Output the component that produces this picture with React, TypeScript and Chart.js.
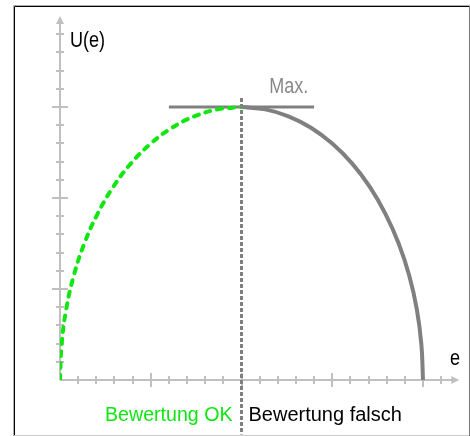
import React, { useEffect, useRef } from "react";
import { Chart, registerables } from "chart.js";

Chart.register(...registerables);

// Curves (x and y in minor-tick units)
const okX = [0, 0.09, 0.34, 0.76, 1.34, 2.07, 2.93, 3.91, 5.0, 6.17, 7.41, 8.69, 10];
const okY = [0, 1.96, 3.88, 5.74, 7.5, 9.13, 10.61, 11.9, 12.99, 13.86, 14.49, 14.87, 15];
const falschX = [10, 11.31, 12.59, 13.83, 15.0, 16.09, 17.07, 17.93, 18.66, 19.24, 19.66, 19.91, 20];
const falschY = [15, 14.87, 14.49, 13.86, 12.99, 11.9, 10.61, 9.13, 7.5, 5.74, 3.88, 1.96, 0];
const maxLineX = [6, 14];
const maxLineY = [15, 15];
const splitX = [10, 10];
const splitY = [15.5, -3];

const xTicks = [1, 2, 3, 4, 5, 6, 7, 8, 9, 10, 11, 12, 13, 14, 15, 16, 17, 18, 19, 20, 21];
const yTicks = [1, 2, 3, 4, 5, 6, 7, 8, 9, 10, 11, 12, 13, 14, 15, 16, 17, 18, 19];
const majorEvery = 5;

const xLabel = "e";
const yLabel = "U(e)";
const maxLabel = "Max.";
const okLabel = "Bewertung OK";
const falschLabel = "Bewertung falsch";

const pts = (xs: number[], ys: number[]) => xs.map((x, i) => ({ x, y: ys[i] }));

function narrowText(
  ctx: CanvasRenderingContext2D,
  text: string,
  x: number,
  y: number,
  align: "left" | "center" | "right",
  squeeze: number
) {
  ctx.save();
  ctx.translate(x, y);
  ctx.scale(squeeze, 1);
  ctx.textAlign = align;
  ctx.fillText(text, 0, 0);
  ctx.restore();
}

const axesPlugin = {
  id: "customAxes",
  beforeDraw(chart: any) {
    const ctx = chart.ctx as CanvasRenderingContext2D;
    ctx.save();
    ctx.fillStyle = "#ffffff";
    ctx.fillRect(0, 0, chart.width, chart.height);
    ctx.lineWidth = 1;
    ctx.strokeStyle = "#b0b0b0";
    ctx.beginPath();
    ctx.moveTo(13.5, 436);
    ctx.lineTo(13.5, 5.5);
    ctx.lineTo(470, 5.5);
    ctx.stroke();
    ctx.strokeStyle = "#000000";
    ctx.beginPath();
    ctx.moveTo(14.5, 436);
    ctx.lineTo(14.5, 6.5);
    ctx.lineTo(469, 6.5);
    ctx.stroke();
    ctx.strokeStyle = "#777777";
    ctx.beginPath();
    ctx.moveTo(469.5, 6);
    ctx.lineTo(469.5, 436);
    ctx.stroke();
    ctx.strokeStyle = "#cccccc";
    ctx.beginPath();
    ctx.moveTo(14, 435.5);
    ctx.lineTo(469, 435.5);
    ctx.stroke();
    ctx.restore();
  },
  beforeDatasetsDraw(chart: any) {
    const ctx = chart.ctx as CanvasRenderingContext2D;
    const xs = chart.scales.x;
    const ys = chart.scales.y;
    const x0 = xs.getPixelForValue(0);
    const y0 = ys.getPixelForValue(0);
    const xEnd = xs.getPixelForValue(xs.max);
    const yEnd = ys.getPixelForValue(ys.max);
    ctx.save();
    ctx.strokeStyle = "#c0c0c0";
    ctx.fillStyle = "#c0c0c0";
    ctx.lineWidth = 2;
    ctx.beginPath();
    ctx.moveTo(x0, y0);
    ctx.lineTo(xEnd - 4, y0);
    ctx.moveTo(x0, y0);
    ctx.lineTo(x0, yEnd + 4);
    ctx.stroke();
    ctx.beginPath();
    ctx.moveTo(xEnd, y0);
    ctx.lineTo(xEnd - 8, y0 - 4);
    ctx.lineTo(xEnd - 8, y0 + 4);
    ctx.closePath();
    ctx.fill();
    ctx.beginPath();
    ctx.moveTo(x0, yEnd);
    ctx.lineTo(x0 - 4, yEnd + 8);
    ctx.lineTo(x0 + 4, yEnd + 8);
    ctx.closePath();
    ctx.fill();
    ctx.beginPath();
    xTicks.forEach((v) => {
      const px = Math.round(xs.getPixelForValue(v));
      const h = v % majorEvery === 0 ? 7 : 4;
      ctx.moveTo(px, y0 - h);
      ctx.lineTo(px, y0 + h);
    });
    yTicks.forEach((v) => {
      const py = Math.round(ys.getPixelForValue(v));
      const h = v % majorEvery === 0 ? 8 : 4;
      ctx.moveTo(x0 - h, py);
      ctx.lineTo(x0 + h, py);
    });
    ctx.stroke();
    ctx.restore();
  },
  afterDatasetsDraw(chart: any) {
    const ctx = chart.ctx as CanvasRenderingContext2D;
    const xs = chart.scales.x;
    const ys = chart.scales.y;
    const xMid = xs.getPixelForValue(10);
    const y0 = ys.getPixelForValue(0);
    ctx.save();
    ctx.textBaseline = "alphabetic";
    ctx.font = '22px "Liberation Sans", Arial, sans-serif';
    ctx.fillStyle = "#000000";
    narrowText(ctx, yLabel, xs.getPixelForValue(0) + 10, 47, "left", 0.82);
    narrowText(ctx, xLabel, 450, y0 - 15, "left", 0.82);
    ctx.fillStyle = "#888888";
    narrowText(ctx, maxLabel, xs.getPixelForValue(12.6), ys.getPixelForValue(15) - 14, "center", 0.82);
    ctx.font = '20px "Liberation Sans", Arial, sans-serif';
    ctx.fillStyle = "#11e611";
    narrowText(ctx, okLabel, xMid - 9, y0 + 41, "right", 0.98);
    ctx.fillStyle = "#000000";
    narrowText(ctx, falschLabel, xMid + 7, y0 + 41, "left", 1.0);
    ctx.restore();
  },
};

export default function App() {
  const ref = useRef<HTMLCanvasElement>(null);
  useEffect(() => {
    if (!ref.current) return;
    const chart = new Chart(ref.current, {
      type: "line",
      data: {
        datasets: [
          {
            label: "split",
            data: pts(splitX, splitY),
            borderColor: "#808080",
            borderWidth: 3,
            borderDash: [4, 2],
            pointRadius: 0,
            clip: false as any,
            order: 0,
          },
          {
            label: "ok",
            data: pts(okX, okY),
            borderColor: "#11e611",
            borderWidth: 4,
            borderDash: [5, 7],
            borderCapStyle: "round",
            pointRadius: 0,
            tension: 0.4,
            order: 1,
          },
          {
            label: "falsch",
            data: pts(falschX, falschY),
            borderColor: "#808080",
            borderWidth: 4,
            pointRadius: 0,
            tension: 0.4,
            order: 2,
          },
          {
            label: "max",
            data: pts(maxLineX, maxLineY),
            borderColor: "#808080",
            borderWidth: 3,
            pointRadius: 0,
            order: 3,
          },
        ],
      },
      options: {
        animation: false,
        responsive: false,
        devicePixelRatio: 1,
        layout: { padding: { left: 60, right: 10.7, top: 16, bottom: 56 } },
        plugins: { legend: { display: false }, tooltip: { enabled: false } },
        scales: {
          x: { type: "linear", min: 0, max: 22, display: false },
          y: { type: "linear", min: 0, max: 20, display: false },
        },
      },
      plugins: [axesPlugin],
    });
    return () => chart.destroy();
  }, []);
  return (
    <div style={{ position: "absolute", left: 0, top: 0, width: 470, height: 436 }}>
      <canvas ref={ref} width={470} height={436} style={{ display: "block" }} />
    </div>
  );
}
